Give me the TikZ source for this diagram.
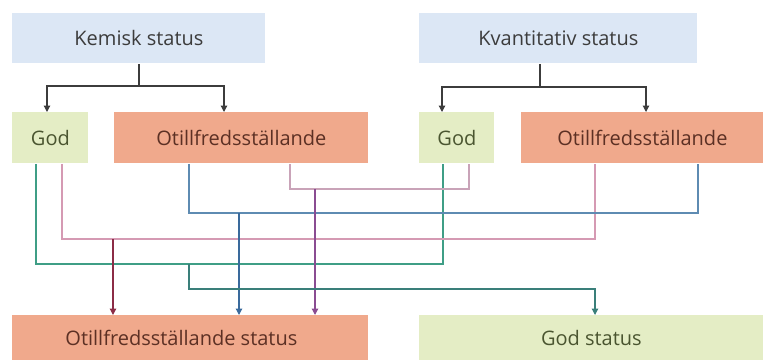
\documentclass[tikz,border=0pt]{standalone}
\usepackage{fontspec}
\setmainfont{Open Sans}
\usetikzlibrary{calc,arrows.meta}
\definecolor{boxblue}{HTML}{DCE7F5}
\definecolor{boxgreen}{HTML}{E4EDC5}
\definecolor{boxsalmon}{HTML}{F0A98C}
\definecolor{txtgray}{HTML}{3C3C3C}
\definecolor{txtgreen}{HTML}{4A5530}
\definecolor{txtbrown}{HTML}{5C3024}
\definecolor{lnteal}{HTML}{3F9E86}
\definecolor{lnpink}{HTML}{D59AB3}
\definecolor{lnblue}{HTML}{5E8BB2}
\definecolor{lnmauve}{HTML}{C9A3B8}
\definecolor{arred}{HTML}{8C2C46}
\definecolor{arblue}{HTML}{3A6A9C}
\definecolor{arpurple}{HTML}{8A4C92}
\definecolor{argreen}{HTML}{2A7A62}
\tikzset{
  every node/.style={inner sep=0pt, font=\fontsize{10}{12}\selectfont},
  hdbox/.style={fill=boxblue, text=txtgray, anchor=north west},
  goodbox/.style={fill=boxgreen, text=txtgreen, anchor=north west},
  badbox/.style={fill=boxsalmon, text=txtbrown, anchor=north west},
  tip/.style={-{Triangle[width=3.2pt,length=3.2pt]}},
  split/.style={draw=txtgray, line width=0.6pt},
  wire/.style={line width=0.6pt},
}
\begin{document}
\begin{tikzpicture}[x=0.5pt,y=-0.5pt]
\useasboundingbox (0,0) rectangle (763,360);

% heading boxes
\node[hdbox, minimum width=126.5pt, minimum height=25pt] (kem) at (12,13) {Kemisk status};
\node[hdbox, minimum width=139pt, minimum height=25pt] (kva) at (419,13) {Kvantitativ status};

% classification boxes
\node[goodbox, minimum width=38pt, minimum height=25.5pt] (god1) at (12,112) {God};
\node[badbox, minimum width=127pt, minimum height=25.5pt] (otl1) at (114,112) {Otillfredsställande};
\node[goodbox, minimum width=37.5pt, minimum height=25.5pt] (god2) at (419,112) {God};
\node[badbox, minimum width=121pt, minimum height=25.5pt] (otl2) at (521,112) {Otillfredsställande};

% result boxes
\node[badbox, minimum width=178pt, minimum height=22.5pt] (otls) at (12,315) {\hspace*{-9pt}Otillfredsställande status};
\node[goodbox, minimum width=172pt, minimum height=22.5pt] (gods) at (419,315) {God status};

% splits below the headings
\coordinate (kemj) at (139,86);
\draw[split] ($(kem.south west)+(127,0)$) -- (kemj);
\draw[split, tip] (kemj) -| ($(god1.north west)+(35,0)$);
\draw[split, tip] (kemj) -| ($(otl1.north west)+(110,0)$);
\coordinate (kvaj) at (540,87);
\draw[split] ($(kva.south west)+(121,0)$) -- (kvaj);
\draw[split, tip] (kvaj) -| ($(god2.north west)+(23,0)$);
\draw[split, tip] (kvaj) -| ($(otl2.north west)+(125,0)$);

% God + God
\coordinate (busA) at (0,264);
\draw[wire, draw=lnteal] ($(god1.south west)+(24,0)$) |- (busA -| god2.south west) coordinate (tA)
  -| ($(god2.south west)+(24,0)$);
% God + Otillfredsställande
\coordinate (busB) at (0,239);
\draw[wire, draw=lnpink] ($(god1.south west)+(50,0)$) |- (busB -| otl2.south west)
  -| ($(otl2.south west)+(74,0)$);
% Otillfredsställande + Otillfredsställande
\coordinate (busC) at (0,213);
\draw[wire, draw=lnblue] ($(otl1.south west)+(75,0)$) |- (busC -| otl2.south west)
  -| ($(otl2.south west)+(177,0)$);
% Otillfredsställande + God
\coordinate (busD) at (0,189);
\draw[wire, draw=lnmauve] ($(otl1.south west)+(176,0)$) |- (busD -| god2.south west)
  -| ($(god2.south west)+(50,0)$);

% outcomes
\coordinate (oB) at (113,239);
\coordinate (oC) at (239,213);
\coordinate (oD) at (315,189);
\draw[wire, draw=arred, tip] (oB) -- (oB |- otls.north);
\draw[wire, draw=arblue, tip] (oC) -- (oC |- otls.north);
\draw[wire, draw=arpurple, tip] (oD) -- (oD |- otls.north);
\coordinate (oA) at (189,264);
\coordinate (oAbus) at (0,289);
\draw[wire, draw=argreen!70!lnblue, tip] (oA) |- (oAbus -| gods.north west)
  -| ($(gods.north west)+(176,0)$);
\end{tikzpicture}
\end{document}
